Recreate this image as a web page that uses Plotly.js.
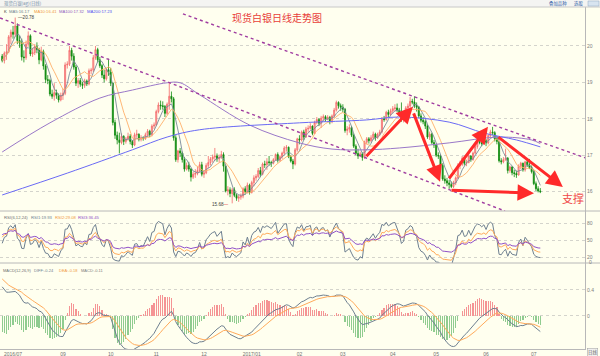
<!DOCTYPE html>
<html><head><meta charset="utf-8">
<script src="https://cdn.plot.ly/plotly-3.0.1.min.js"></script>
<style>html,body{margin:0;padding:0;background:#FFFFEF;} #chart{width:600px;height:356px;}</style>
</head><body><div id="chart"></div>
<script>
// ---- data (daily bars, index 0 = 2016-07-25 ... 248 = 2017-07-06) ----
const opens = [19.72,19.60,19.80,19.84,20.25,20.38,20.32,20.55,20.15,20.08,
19.70,19.68,20.05,20.28,19.78,19.82,19.98,19.90,19.62,19.85,
19.45,19.08,19.05,18.68,18.62,18.72,18.65,18.52,18.64,18.70,
19.48,19.50,19.88,19.72,19.42,18.98,19.05,18.95,18.92,19.04,
18.96,19.32,19.34,19.68,19.90,19.62,19.46,19.20,19.10,19.35,
19.28,18.98,17.90,17.55,17.42,17.35,17.52,17.38,17.45,17.52,
17.38,17.28,17.56,17.58,17.44,17.48,17.46,17.56,17.66,17.56,
17.80,17.83,18.20,18.38,18.36,18.34,18.15,18.40,18.62,18.55,
17.48,16.88,17.12,17.06,16.88,16.62,16.72,16.62,16.40,16.48,
16.50,16.58,16.74,16.48,16.52,16.72,16.80,16.90,16.95,16.98,
16.90,16.95,17.02,16.70,16.02,16.05,15.95,16.05,15.90,15.82,
15.85,15.88,16.08,16.00,16.18,15.98,16.25,16.38,16.42,16.58,
16.48,16.76,16.74,16.82,16.80,16.78,16.88,17.02,16.86,16.96,
17.06,17.20,17.22,16.96,16.84,16.76,17.15,17.45,17.42,17.64,
17.50,17.72,17.74,17.80,17.60,17.90,17.98,17.88,18.02,18.06,
18.00,18.04,17.92,18.08,18.24,18.45,18.36,18.32,18.26,17.68,
17.72,17.76,17.55,17.25,17.05,16.98,17.04,16.94,17.36,17.45,
17.40,17.48,17.58,17.48,17.58,17.64,18.00,17.98,18.18,18.12,
18.22,18.28,18.30,18.24,18.15,17.98,18.02,18.30,18.35,18.48,
18.46,18.36,18.32,18.08,17.96,17.92,17.80,17.50,17.58,17.35,
17.28,17.00,16.98,16.72,16.35,16.30,16.24,16.20,16.14,16.24,
16.38,16.72,16.75,16.92,16.78,16.80,16.98,16.88,17.06,17.24,
17.36,17.35,17.32,17.40,17.34,17.54,17.64,17.62,17.45,17.38,
16.85,16.82,16.88,16.92,16.58,16.68,16.52,16.50,16.46,16.70,
16.78,16.60,16.82,16.74,16.66,16.55,16.22,16.08,16.02];
const highs = [19.78,19.85,20.05,20.30,20.45,20.55,20.78,20.62,20.28,20.20,
19.88,20.15,20.40,20.32,19.95,20.05,20.10,19.95,19.98,19.90,
19.50,19.20,19.10,18.80,18.98,18.80,18.70,18.72,18.82,19.55,
19.58,20.00,19.95,19.80,19.48,19.12,19.12,19.02,19.10,19.08,
19.38,19.40,19.75,20.00,19.95,19.70,19.50,19.35,19.40,19.65,
19.40,19.00,17.98,17.65,17.62,17.60,17.55,17.50,17.62,17.58,
17.42,17.62,17.70,17.60,17.55,17.52,17.62,17.72,17.70,17.85,
17.90,18.25,18.45,18.50,18.48,18.38,18.45,19.00,18.75,18.60,
17.55,17.15,17.20,17.10,16.95,16.80,16.82,16.65,16.55,16.62,
16.68,16.82,16.82,16.58,16.78,16.98,16.95,17.02,17.20,17.05,
17.02,17.12,17.08,16.72,16.15,16.12,16.10,16.12,15.95,15.92,
15.95,16.12,16.15,16.25,16.22,16.30,16.45,16.48,16.65,16.68,
16.80,16.85,16.92,16.98,16.85,16.92,17.05,17.08,17.00,17.10,
17.25,17.28,17.24,17.00,16.90,17.20,17.48,17.55,17.68,17.70,
17.78,17.82,17.88,17.82,17.95,18.05,18.02,18.08,18.12,18.10,
18.10,18.08,18.12,18.30,18.50,18.48,18.42,18.40,18.30,17.80,
17.85,17.80,17.60,17.30,17.18,17.10,17.08,17.40,17.50,17.50,
17.55,17.65,17.62,17.62,17.70,18.05,18.08,18.22,18.25,18.28,
18.35,18.40,18.42,18.30,18.45,18.10,18.35,18.42,18.60,18.55,
18.62,18.45,18.35,18.15,18.05,17.98,17.85,17.65,17.62,17.42,
17.32,17.08,17.02,16.78,16.45,16.38,16.32,16.28,16.30,16.42,
16.78,16.85,16.98,16.98,16.88,17.02,17.00,17.10,17.28,17.40,
17.42,17.40,17.45,17.45,17.58,17.70,17.78,17.66,17.52,17.40,
16.92,16.95,17.18,16.95,16.72,16.70,16.60,16.58,16.75,16.82,
16.80,16.85,16.88,16.90,16.72,16.60,16.28,16.15,16.10];
const lows = [19.55,19.52,19.62,19.80,20.05,20.20,20.25,20.05,19.95,19.60,
19.55,19.62,19.98,19.72,19.70,19.75,19.80,19.50,19.58,19.35,
18.98,18.95,18.62,18.55,18.50,18.55,18.45,18.48,18.52,18.65,
19.38,19.45,19.60,19.35,18.90,18.85,18.88,18.82,18.85,18.90,
18.92,19.22,19.28,19.62,19.55,19.40,19.12,19.00,19.05,19.18,
18.90,17.82,17.45,17.30,17.05,17.30,17.28,17.32,17.40,17.30,
17.20,17.25,17.48,17.38,17.38,17.40,17.42,17.50,17.50,17.52,
17.72,17.80,18.15,18.25,18.25,18.05,18.10,18.25,18.45,17.40,
16.82,16.80,16.95,16.80,16.55,16.58,16.55,16.28,16.35,16.38,
16.45,16.52,16.42,16.38,16.48,16.65,16.72,16.80,16.85,16.82,
16.80,16.90,16.55,15.98,15.90,15.85,15.68,15.85,15.75,15.72,
15.78,15.82,15.92,15.95,15.92,15.95,16.15,16.30,16.38,16.40,
16.45,16.65,16.60,16.72,16.68,16.75,16.85,16.80,16.82,16.90,
17.02,17.10,16.92,16.80,16.62,16.72,17.10,17.30,17.38,17.42,
17.48,17.62,17.70,17.55,17.58,17.85,17.80,17.75,17.95,17.92,
17.96,17.85,17.88,18.02,18.20,18.28,18.22,18.18,17.62,17.55,
17.62,17.50,17.20,17.00,16.90,16.95,16.85,16.90,17.30,17.32,
17.35,17.42,17.40,17.45,17.52,17.60,17.92,17.95,18.05,18.08,
18.15,18.20,18.18,18.08,17.92,17.90,17.98,18.22,18.30,18.40,
18.30,18.20,18.02,17.90,17.85,17.72,17.45,17.42,17.30,17.20,
16.95,16.90,16.68,16.30,16.22,16.15,16.08,16.10,16.10,16.18,
16.35,16.62,16.70,16.72,16.70,16.78,16.82,16.85,17.02,17.18,
17.30,17.25,17.28,17.25,17.30,17.50,17.55,17.38,17.30,16.80,
16.75,16.78,16.85,16.50,16.52,16.45,16.40,16.38,16.44,16.62,
16.55,16.55,16.68,16.62,16.50,16.18,16.02,15.98,15.96];
const closes = [19.60,19.80,19.84,20.25,20.38,20.32,20.55,20.15,20.08,19.70,
19.68,20.05,20.28,19.78,19.82,19.98,19.90,19.62,19.85,19.45,
19.08,19.05,18.68,18.62,18.72,18.65,18.52,18.64,18.70,19.48,
19.50,19.88,19.72,19.42,18.98,19.05,18.95,18.92,19.04,18.96,
19.32,19.34,19.68,19.90,19.62,19.46,19.20,19.10,19.35,19.28,
18.98,17.90,17.55,17.42,17.35,17.52,17.38,17.45,17.52,17.38,
17.28,17.56,17.58,17.44,17.48,17.46,17.56,17.66,17.56,17.80,
17.83,18.20,18.38,18.36,18.34,18.15,18.40,18.62,18.55,17.48,
16.88,17.12,17.06,16.88,16.62,16.72,16.62,16.40,16.48,16.50,
16.58,16.74,16.48,16.52,16.72,16.80,16.90,16.95,16.98,16.90,
16.95,17.02,16.70,16.02,16.05,15.95,16.05,15.90,15.82,15.85,
15.88,16.08,16.00,16.18,15.98,16.25,16.38,16.42,16.58,16.48,
16.76,16.74,16.82,16.80,16.78,16.88,17.02,16.86,16.96,17.06,
17.20,17.22,16.96,16.84,16.76,17.15,17.45,17.42,17.64,17.50,
17.72,17.74,17.80,17.60,17.90,17.98,17.88,18.02,18.06,18.00,
18.04,17.92,18.08,18.24,18.45,18.36,18.32,18.26,17.68,17.72,
17.76,17.55,17.25,17.05,16.98,17.04,16.94,17.36,17.45,17.40,
17.48,17.58,17.48,17.58,17.64,18.00,17.98,18.18,18.12,18.22,
18.28,18.30,18.24,18.15,17.98,18.02,18.30,18.35,18.48,18.46,
18.36,18.32,18.08,17.96,17.92,17.80,17.50,17.58,17.35,17.28,
17.00,16.98,16.72,16.35,16.30,16.24,16.20,16.14,16.24,16.38,
16.72,16.75,16.92,16.78,16.80,16.98,16.88,17.06,17.24,17.36,
17.35,17.32,17.40,17.34,17.54,17.64,17.62,17.45,17.38,16.85,
16.82,16.88,16.92,16.58,16.68,16.52,16.50,16.46,16.70,16.78,
16.60,16.82,16.74,16.66,16.55,16.22,16.08,16.02,16.00];

// long moving averages (bar index -> value)
const ma100Idx = [0, 22, 45, 60, 76, 82, 91, 114, 137, 152, 168, 183, 206, 229, 244, 248];
const ma100Val = [17.09, 17.89, 18.57, 18.79, 18.99, 18.99, 18.66, 17.83, 17.34, 17.17, 17.15, 17.20, 17.34, 17.50, 17.42, 17.32];
const ma200Idx = [0, 30, 60, 76, 91, 137, 168, 183, 206, 222, 237, 248];
const ma200Val = [15.91, 16.51, 17.15, 17.50, 17.70, 17.89, 17.97, 18.05, 17.91, 17.61, 17.42, 17.23];

// month tick labels
const monthIdx = [5, 28, 50, 71, 93, 115, 137, 157, 180, 200, 223, 245];
const monthText = ["2016/07","09","10","11","12","2017/01","02","03","04","05","06","07"];

// indicator state at the left edge, read from the sub-panels
const macdStartDiff = 0.52, macdStartDea = 0.60, macdStartEma26 = 19.50;
const rsiStartUp = [0.09, 0.105, 0.11], rsiStartAbs = [0.18, 0.18, 0.18];

// ---- derived indicators ----
const N = closes.length;
const xs = closes.map((_, i) => i);
function movingAvg(vals, n) {
  return vals.map((_, i) => {
    const from = Math.max(0, i - n + 1);
    const w = vals.slice(from, i + 1);
    return w.reduce((a, b) => a + b, 0) / w.length;
  });
}
const ma5 = movingAvg(closes, 5), ma10 = movingAvg(closes, 10);
function rsi(n, k) {
  let up = rsiStartUp[k], ab = rsiStartAbs[k];
  return closes.map((c, i) => {
    const d = c - (i === 0 ? opens[0] : closes[i - 1]);
    up = (Math.max(d, 0) + (n - 1) * up) / n;
    ab = (Math.abs(d) + (n - 1) * ab) / n;
    return 100 * up / ab;
  });
}
const rsi1 = rsi(6, 0), rsi2 = rsi(12, 1), rsi3 = rsi(24, 2);
let e26 = macdStartEma26, e12 = macdStartEma26 + macdStartDiff, dea = macdStartDea;
const diffA = [], deaA = [], histA = [];
closes.forEach(c => {
  e12 = (2 * c + 11 * e12) / 13; e26 = (2 * c + 25 * e26) / 27;
  const d = e12 - e26; dea = (2 * d + 8 * dea) / 10;
  diffA.push(d); deaA.push(dea); histA.push(2 * (d - dea));
});

// ---- drawing ----
const H = 349, W = 585;
const PX = x => x / W, PY = y => (H - y) / H;
const CJK = 'Noto Sans CJK SC, sans-serif';
const SM = 'Liberation Sans, Arial, sans-serif';

const traces = [
  {type: 'candlestick', x: xs, open: opens, high: highs, low: lows, close: closes,
   xaxis: 'x', yaxis: 'y', hoverinfo: 'skip',
   increasing: {line: {color: '#F46A6A', width: 0.8}, fillcolor: '#FAB4B4'},
   decreasing: {line: {color: '#108C10', width: 0.8}, fillcolor: '#108C10'}},
  {type: 'scatter', mode: 'lines', x: xs, y: ma5, yaxis: 'y', line: {color: '#7A8A9A', width: 0.9}},
  {type: 'scatter', mode: 'lines', x: xs, y: ma10, yaxis: 'y', line: {color: '#FFB06A', width: 0.9}},
  {type: 'scatter', mode: 'lines', x: ma100Idx, y: ma100Val, yaxis: 'y', line: {color: '#9A78C8', width: 1, shape: 'spline'}},
  {type: 'scatter', mode: 'lines', x: ma200Idx, y: ma200Val, yaxis: 'y', line: {color: '#6A6AF5', width: 1, shape: 'spline'}},
  {type: 'scatter', mode: 'lines', x: xs, y: rsi1, yaxis: 'y2', line: {color: '#6E7F90', width: 1}},
  {type: 'scatter', mode: 'lines', x: xs, y: rsi2, yaxis: 'y2', line: {color: '#FFAA5A', width: 1}},
  {type: 'scatter', mode: 'lines', x: xs, y: rsi3, yaxis: 'y2', line: {color: '#9050C8', width: 1}},
  {type: 'bar', x: xs, y: histA, yaxis: 'y3', width: 0.55,
   marker: {color: histA.map(v => v >= 0 ? '#F59494' : '#90CC90'), line: {width: 0}}},
  {type: 'scatter', mode: 'lines', x: xs, y: diffA, yaxis: 'y3', line: {color: '#6E7F90', width: 1}},
  {type: 'scatter', mode: 'lines', x: xs, y: deaA, yaxis: 'y3', line: {color: '#FFAA5A', width: 1}}
];

const axisCommon = {side: 'right', showline: true, linecolor: '#B8B8B8', linewidth: 1, ticks: '',
  tickfont: {size: 5, color: '#808080', family: SM}, showgrid: true, gridcolor: '#D4D4CC', griddash: 'dot',
  gridwidth: 1, zeroline: false, fixedrange: true, anchor: 'x'};

function txt(t, x, y, color, size, family, extra) {
  return Object.assign({text: t, xref: 'paper', yref: 'paper', x: PX(x), y: PY(y), xanchor: 'left', yanchor: 'middle',
    showarrow: false, font: {size: size || 4.2, color: color, family: family || SM}}, extra || {});
}
function arrow(tipIdx, tipPrice, ax, ay) {
  return {x: tipIdx, y: tipPrice, xref: 'x', yref: 'y', ax: ax, ay: ay, text: '', showarrow: true,
    arrowhead: 2, arrowsize: 1.1, arrowwidth: 3, arrowcolor: '#FF2A2A'};
}

const annotations = [
  txt('现货白银日线走势图', 277, 17, '#E8403A', 10, CJK, {xanchor: 'center'}),
  txt('现货白银(ag)(日线)', 2, 3.5, '#7890A8', 4.4, CJK),
  txt('叠加品种', 547, 3.5, '#3060A8', 4.4, CJK),
  txt('选股', 572, 3.5, '#3060A8', 4.4, CJK),
  txt('K', 2, 11, '#404040'),
  txt('MA5:16.17', 7, 11, '#6E7F90'),
  txt('MA10:16.41', 32, 11, '#F09A40'),
  txt('MA100:17.32', 57, 11, '#9060C0'),
  txt('MA200:17.23', 85, 11, '#5050F0'),
  txt('RSI(6,12,24)', 2, 217, '#707070'),
  txt('RSI1:19.93', 29, 217, '#6E7F90'),
  txt('RSI2:29.08', 53, 217, '#F09A40'),
  txt('RSI3:36.45', 76, 217, '#9050C8'),
  txt('MACD(12,26,9)', 1, 270, '#707070', 4.0),
  txt('DIFF:-0.24', 32, 270, '#6E7F90', 4.0),
  txt('DEA:-0.18', 57, 270, '#F09A40', 4.0),
  txt('MACD:-0.11', 79, 270, '#808080', 4.0),
  txt('0', 587, 262, '#808080', 5),
  txt('日线', 587, 352, '#606060', 4.4, CJK, {bordercolor: '#A0A0A0', borderwidth: 0.5, borderpad: 0.5, bgcolor: '#F0F0F0'}),
  {x: 6, y: 20.78, xref: 'x', yref: 'y', text: '—20.78', showarrow: false, xanchor: 'left', xshift: 1,
   font: {size: 4.6, color: '#404040', family: SM}},
  {x: 106, y: 15.66, xref: 'x', yref: 'y', text: '15.68<span style="color:#E03030">—</span>', showarrow: false,
   xanchor: 'right', xshift: -1, font: {size: 4.6, color: '#404040', family: SM}},
  arrow(189.3, 18.33, -48, 51),
  arrow(201.8, 16.27, -27, -70),
  arrow(223.9, 17.78, -40, 53),
  arrow(245.1, 15.96, -84, -3),
  arrow(258.4, 16.13, -66, -51),
  {x: 263, y: 15.83, xref: 'x', yref: 'y', text: '支撑', showarrow: false,
   font: {size: 11, color: '#F04848', family: CJK}}
];

const trendUpper = [[83.3, 20.88], [268.6, 16.93]];
const trendLower = [[-1.0, 20.77], [231.7, 15.47]];
const shapes = [
  {type: 'rect', xref: 'paper', yref: 'paper', x0: 0, x1: 600 / W, y0: PY(7), y1: PY(0), fillcolor: '#F4F4F2', line: {width: 0}, layer: 'below'},
  {type: 'line', xref: 'paper', yref: 'paper', x0: 0, x1: 600 / W, y0: PY(7), y1: PY(7), line: {color: '#C8C8C8', width: 1}},
  {type: 'line', xref: 'paper', yref: 'paper', x0: 0, x1: 600 / W, y0: PY(211), y1: PY(211), line: {color: '#B8B8B8', width: 1}},
  {type: 'line', xref: 'paper', yref: 'paper', x0: 0, x1: 600 / W, y0: PY(263), y1: PY(263), line: {color: '#B8B8B8', width: 1}},
  {type: 'rect', xref: 'paper', yref: 'paper', x0: PX(588), x1: PX(599), y0: PY(6), y1: PY(1), fillcolor: '#D8E4F0', line: {color: '#90A8C0', width: 0.5}},
  {type: 'line', xref: 'x', yref: 'y', x0: trendUpper[0][0], y0: trendUpper[0][1], x1: trendUpper[1][0], y1: trendUpper[1][1],
   line: {color: '#A03CA0', width: 1.4, dash: 'dot'}},
  {type: 'line', xref: 'x', yref: 'y', x0: trendLower[0][0], y0: trendLower[0][1], x1: trendLower[1][0], y1: trendLower[1][1],
   line: {color: '#A03CA0', width: 1.4, dash: 'dot'}}
];

const layout = {
  width: 600, height: 356, margin: {l: 0, r: 15, t: 0, b: 7, pad: 0},
  paper_bgcolor: '#FFFFEF', plot_bgcolor: '#FFFFEF', showlegend: false, bargap: 0,
  xaxis: {range: [-1.01, 268.6], anchor: 'y3', tickvals: monthIdx, ticktext: monthText, ticks: '',
    tickfont: {size: 5, color: '#707070', family: SM}, showgrid: false, zeroline: false,
    showline: true, linecolor: '#B8B8B8', rangeslider: {visible: false}, fixedrange: true},
  yaxis: Object.assign({}, axisCommon, {domain: [PY(211), PY(7)], range: [15.47, 21.07], tickvals: [16, 17, 18, 19, 20]}),
  yaxis2: Object.assign({}, axisCommon, {domain: [PY(263), PY(211)], range: [9.4, 101.2], tickvals: [20, 50, 80]}),
  yaxis3: Object.assign({}, axisCommon, {domain: [0, PY(263)], range: [-0.51, 0.815], tickvals: [0, 0.4], ticktext: ['0', '0.4']}),
  annotations: annotations, shapes: shapes
};

Plotly.newPlot('chart', traces, layout, {displayModeBar: false, staticPlot: true});
</script></body></html>
